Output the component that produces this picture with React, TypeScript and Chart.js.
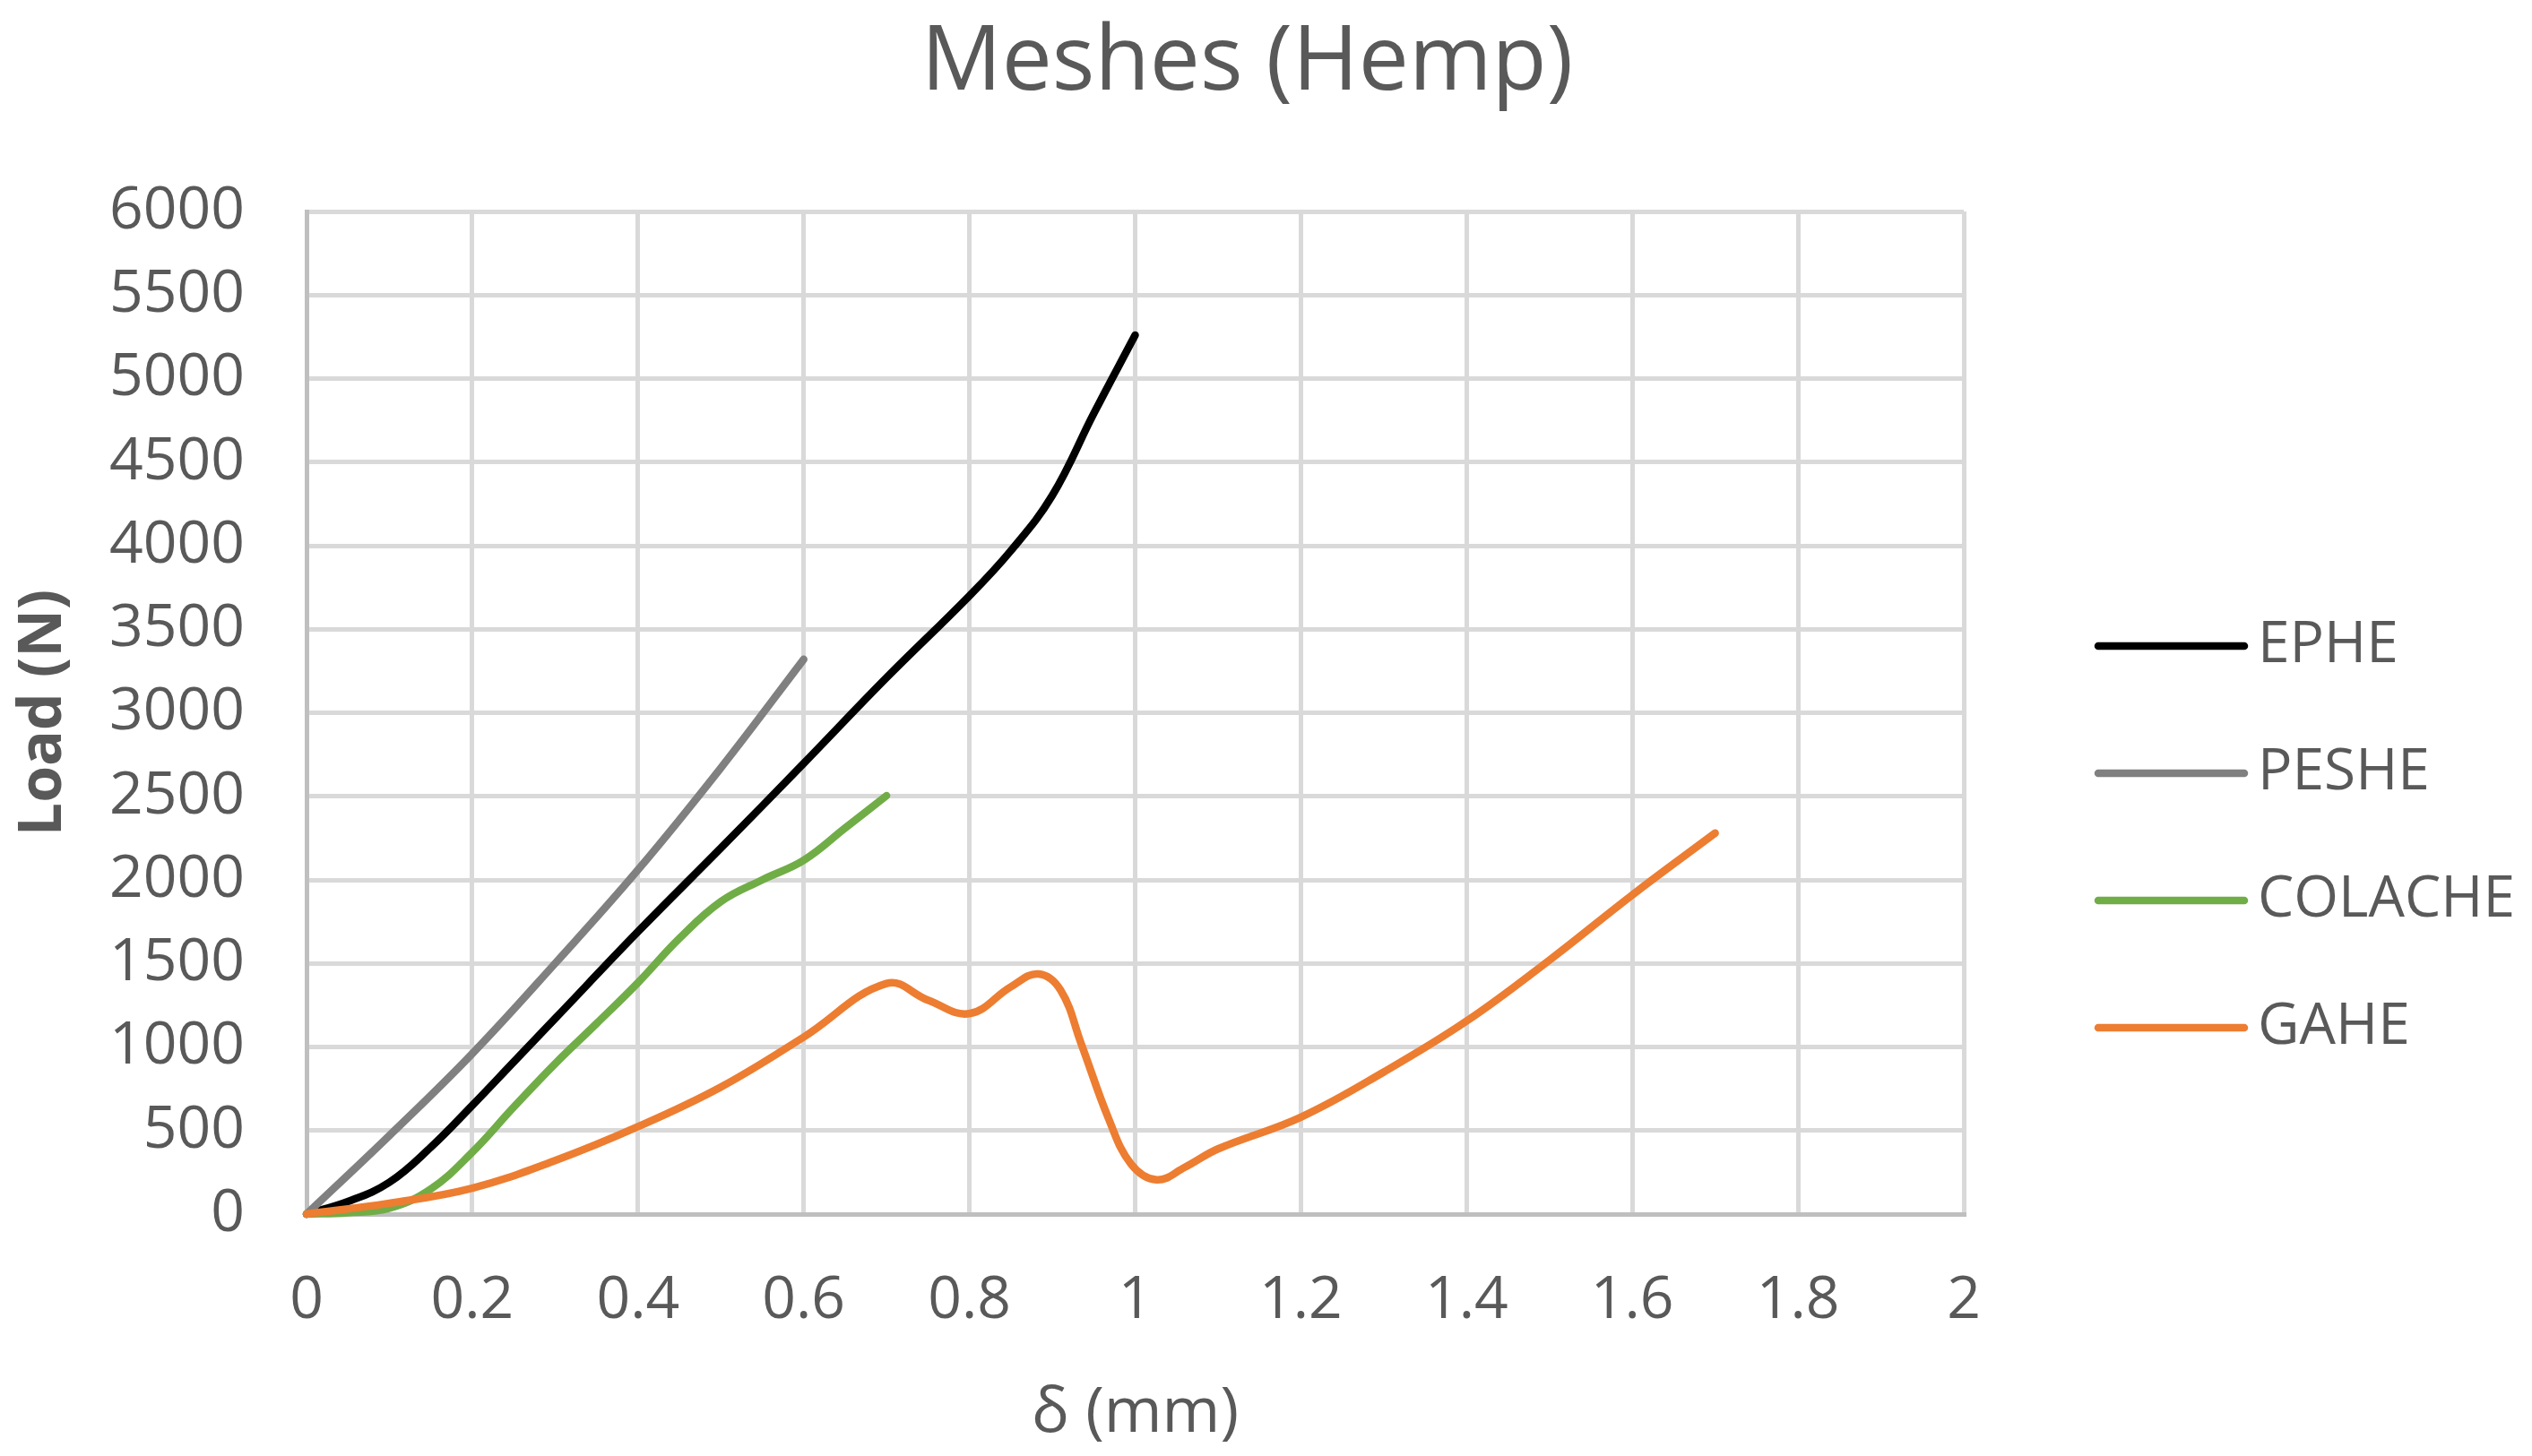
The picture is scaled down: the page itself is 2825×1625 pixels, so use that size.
import React, { useEffect, useRef } from "react";
import { Chart, registerables } from "chart.js";

Chart.register(...registerables);

const TITLE = "Meshes (Hemp)";
const X_TITLE = "δ (mm)";
const Y_TITLE = "Load (N)";

const SERIES_NAMES = ["EPHE", "PESHE", "COLACHE", "GAHE"];
const SERIES_COLORS = ["#000000", "#808080", "#70AD47", "#ED7D31"];

const EPHE_X = [0, 0.05, 0.1, 0.15, 0.2, 0.25, 0.3, 0.4, 0.5, 0.6, 0.7, 0.8, 0.85, 0.9, 0.95, 1.0];
const EPHE_Y = [0, 75, 190, 400, 650, 910, 1170, 1690, 2190, 2697, 3210, 3700, 3970, 4300, 4790, 5260];

const PESHE_X = [0, 0.1, 0.2, 0.3, 0.4, 0.5, 0.6];
const PESHE_Y = [0, 470, 960, 1500, 2060, 2670, 3320];

const COLACHE_X = [0, 0.05, 0.1, 0.15, 0.2, 0.25, 0.3, 0.35, 0.4, 0.45, 0.5, 0.55, 0.6, 0.65, 0.7];
const COLACHE_Y = [0, 8, 35, 150, 370, 640, 900, 1140, 1385, 1650, 1870, 2000, 2117, 2310, 2504];

const GAHE_X = [0, 0.1, 0.2, 0.3, 0.4, 0.5, 0.6, 0.7, 0.75, 0.8, 0.85, 0.883, 0.91, 0.935, 0.968, 0.995, 1.026, 1.06, 1.1, 1.2, 1.3, 1.4, 1.5, 1.6, 1.7];
const GAHE_Y = [0, 65, 155, 320, 523, 760, 1059, 1380, 1280, 1200, 1360, 1437, 1340, 1018, 571, 300, 205, 280, 390, 580, 850, 1155, 1520, 1910, 2280];

const SERIES_X = [EPHE_X, PESHE_X, COLACHE_X, GAHE_X];
const SERIES_Y = [EPHE_Y, PESHE_Y, COLACHE_Y, GAHE_Y];

const X_MIN = 0;
const X_MAX = 2;
const X_STEP = 0.2;
const Y_MIN = 0;
const Y_MAX = 6000;
const Y_STEP = 500;

const FONT = "'Open Sans', 'DejaVu Sans', sans-serif";
const TEXT_COLOR = "#595959";
const GRID_COLOR = "#D9D9D9";
const AXIS_COLOR = "#BFBFBF";
const LINE_WIDTH = 8.5;

// legend layout (relative to chart area right edge / absolute rows)
const LEGEND_LINE_START = 150;
const LEGEND_LINE_END = 313;
const LEGEND_TEXT_X = 328;
const LEGEND_TOP = 721;
const LEGEND_GAP = 142;

export default function App() {
  const ref = useRef<HTMLCanvasElement | null>(null);

  useEffect(() => {
    if (!ref.current) return;

    const sideLegend = {
      id: "sideLegend",
      afterDraw(chart: any) {
        const ctx = chart.ctx;
        const area = chart.chartArea;
        ctx.save();
        chart.data.datasets.forEach((ds: any, i: number) => {
          const y = LEGEND_TOP + i * LEGEND_GAP;
          ctx.beginPath();
          ctx.strokeStyle = ds.borderColor;
          ctx.lineWidth = LINE_WIDTH;
          ctx.lineCap = "round";
          ctx.moveTo(area.right + LEGEND_LINE_START, y);
          ctx.lineTo(area.right + LEGEND_LINE_END, y);
          ctx.stroke();
          ctx.fillStyle = TEXT_COLOR;
          ctx.font = `64px ${FONT}`;
          ctx.textAlign = "left";
          ctx.textBaseline = "middle";
          ctx.fillText(ds.label, area.right + LEGEND_TEXT_X, y);
        });
        ctx.restore();
      },
    };

    const datasets = SERIES_NAMES.map((name, i) => ({
      label: name,
      data: SERIES_X[i].map((x, j) => ({ x, y: SERIES_Y[i][j] })),
      borderColor: SERIES_COLORS[i],
      backgroundColor: SERIES_COLORS[i],
      borderWidth: LINE_WIDTH,
      pointRadius: 0,
      tension: 0.4,
      borderCapStyle: "round" as const,
      borderJoinStyle: "round" as const,
      clip: false as const,
      order: SERIES_NAMES.length - i,
      xAxisID: "x",
      yAxisID: "y",
    }));

    const chart = new Chart(ref.current, {
      type: "line",
      data: { datasets },
      plugins: [sideLegend],
      options: {
        animation: false,
        responsive: false,
        devicePixelRatio: 1,
        layout: { padding: { left: 0, right: 42, top: 0, bottom: 0 } },
        plugins: {
          legend: { display: false },
          tooltip: { enabled: false },
          title: {
            display: true,
            text: TITLE,
            color: TEXT_COLOR,
            font: { family: FONT, size: 100, weight: "normal" },
            padding: { top: 12, bottom: 104 },
          },
        },
        scales: {
          x: {
            type: "linear",
            min: X_MIN,
            max: X_MAX,
            afterFit: (s: any) => {
              s.height = 270;
            },
            ticks: {
              stepSize: X_STEP,
              autoSkip: false,
              maxRotation: 0,
              padding: 58,
              color: TEXT_COLOR,
              font: { family: FONT, size: 66 },
              callback: (v: any) => String(Math.round(Number(v) * 10) / 10),
            },
            grid: { color: GRID_COLOR, lineWidth: 5, drawTicks: false },
            border: { color: AXIS_COLOR, width: 5 },
            title: {
              display: true,
              text: X_TITLE,
              color: TEXT_COLOR,
              font: { family: FONT, size: 70 },
              padding: { top: 0, bottom: 5 },
            },
          },
          y: {
            type: "linear",
            position: "left",
            min: Y_MIN,
            max: Y_MAX,
            afterFit: (s: any) => {
              s.width = 342;
            },
            ticks: {
              stepSize: Y_STEP,
              padding: 69,
              color: TEXT_COLOR,
              font: { family: FONT, size: 66 },
              callback: (v: any) => String(Math.round(Number(v))),
            },
            grid: { color: GRID_COLOR, lineWidth: 5, drawTicks: false },
            border: { color: AXIS_COLOR, width: 5 },
            title: {
              display: true,
              text: Y_TITLE,
              color: TEXT_COLOR,
              font: { family: FONT, size: 66, weight: "bold" },
              padding: { top: 10, bottom: 0 },
            },
          },
          yR: {
            type: "linear",
            position: "right",
            min: 0,
            max: 1,
            display: true,
            grid: { display: false },
            ticks: { display: false },
            border: { display: false },
            afterFit: (s: any) => {
              s.width = 592;
            },
          },
        },
      } as any,
    });

    return () => chart.destroy();
  }, []);

  return (
    <div
      style={{
        position: "fixed",
        left: 0,
        top: 0,
        width: 2825,
        height: 1625,
        background: "#ffffff",
      }}
    >
      <canvas
        ref={ref}
        width={2825}
        height={1625}
        style={{ display: "block", width: 2825, height: 1625 }}
      />
    </div>
  );
}
